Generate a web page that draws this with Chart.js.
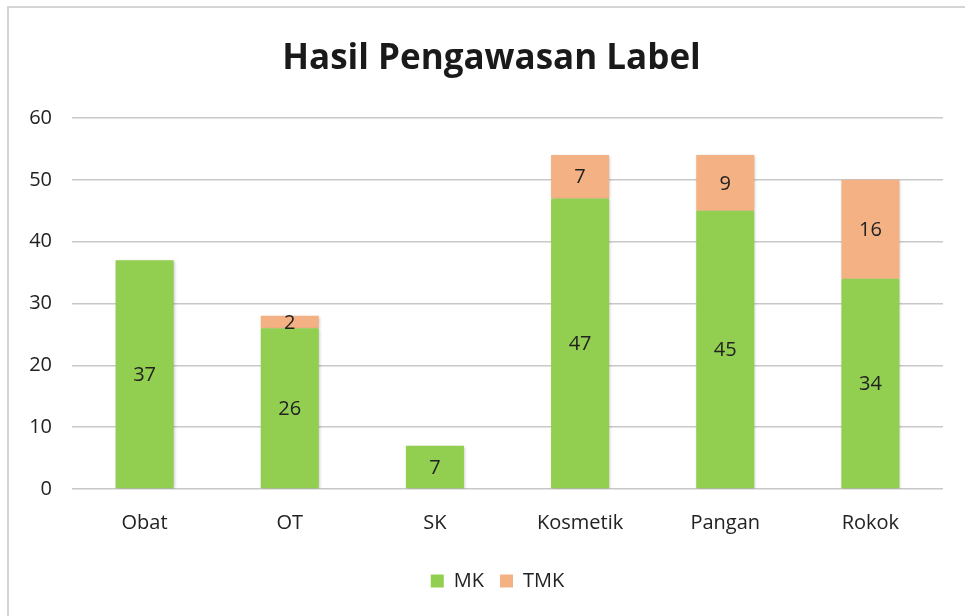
<!DOCTYPE html>
<html>
<head>
<meta charset="utf-8">
<script src="https://cdn.jsdelivr.net/npm/chart.js@4/dist/chart.umd.min.js"></script>
<style>
  html, body { margin: 0; padding: 0; background: #fff; }
  #wrap { position: relative; width: 965px; height: 616px; }
  #frame { position: absolute; left: 7px; top: 6px; right: -10px; bottom: -10px;
           border-left: 2px solid #d4d4d4; border-top: 2px solid #d4d4d4; pointer-events: none; }
</style>
</head>
<body>
<div id="wrap">
  <canvas id="chart" width="965" height="616"></canvas>
  <div id="frame"></div>
</div>
<script>
// Data
const categories = ['Obat', 'OT', 'SK', 'Kosmetik', 'Pangan', 'Rokok'];
const mkValues = [37, 26, 7, 47, 45, 34];
const tmkValues = [null, 2, null, 7, 9, 16];
const yTicks = [0, 10, 20, 30, 40, 50, 60];

const FONT = "'Open Sans', sans-serif";

// Draw each value in the middle of its bar segment
const barLabels = {
  id: 'barLabels',
  afterDatasetsDraw(chart) {
    const ctx = chart.ctx;
    ctx.save();
    ctx.font = '20px ' + FONT;
    ctx.fillStyle = '#222';
    ctx.textAlign = 'center';
    ctx.textBaseline = 'middle';
    chart.data.datasets.forEach((ds, i) => {
      chart.getDatasetMeta(i).data.forEach((bar, j) => {
        const v = ds.data[j];
        if (v === null || v === undefined) return;
        const { x, y, base } = bar.getProps(['x', 'y', 'base'], true);
        ctx.fillText(String(v), x, (y + base) / 2 + 1);
      });
    });
    ctx.restore();
  }
};

// Soft shadow behind bars
const barShadow = {
  id: 'barShadow',
  beforeDatasetsDraw(chart) {
    chart.ctx.save();
    chart.ctx.shadowColor = 'rgba(0,0,0,0.25)';
    chart.ctx.shadowBlur = 3;
    chart.ctx.shadowOffsetX = 1;
    chart.ctx.shadowOffsetY = 1;
  },
  afterDatasetsDraw(chart) {
    chart.ctx.restore();
  }
};

// Nudge title and legend right, the original centres them a bit off the canvas middle
const boxShift = {
  id: 'boxShift',
  beforeDraw(chart) {
    chart.legend.left += 26;
    chart.legend.right += 26;
    chart.titleBlock.left += 20;
    chart.titleBlock.right += 20;
  }
};

new Chart(document.getElementById('chart'), {
  type: 'bar',
  data: {
    labels: categories,
    datasets: [
      { label: 'MK', data: mkValues, backgroundColor: '#92CF50', borderWidth: 0 },
      { label: 'TMK', data: tmkValues, backgroundColor: '#F4B183', borderWidth: 0 }
    ]
  },
  options: {
    responsive: false,
    animation: false,
    layout: { padding: { left: 0, right: 22, top: 0, bottom: 15 } },
    datasets: { bar: { categoryPercentage: 1, barPercentage: 0.4 } },
    plugins: {
      title: {
        display: true,
        text: 'Hasil Pengawasan Label',
        color: '#1a1a1a',
        font: { family: FONT, size: 35, weight: 'bold' },
        padding: { top: 38, bottom: 38 }
      },
      legend: {
        position: 'bottom',
        labels: {
          boxWidth: 13, boxHeight: 13, padding: 16,
          color: '#222',
          font: { family: FONT, size: 20 }
        }
      },
      tooltip: { enabled: false }
    },
    scales: {
      x: {
        stacked: true,
        afterFit(scale) { scale.height = 66; },
        grid: { display: false },
        border: { display: false },
        ticks: { color: '#222', padding: 14, font: { family: FONT, size: 20 } }
      },
      y: {
        stacked: true,
        min: 0, max: 60,
        afterFit(scale) { scale.width = 72; },
        afterBuildTicks(scale) { scale.ticks = yTicks.map(v => ({ value: v })); },
        grid: { color: '#c8c8c8', lineWidth: 1.5, drawTicks: false },
        border: { display: false },
        ticks: { color: '#222', padding: 20, font: { family: FONT, size: 20 } }
      }
    }
  },
  plugins: [barShadow, barLabels, boxShift]
});
</script>
</body>
</html>
